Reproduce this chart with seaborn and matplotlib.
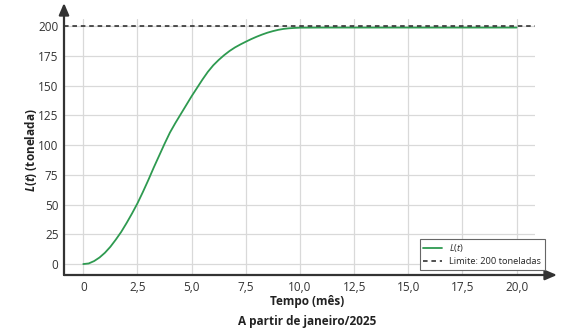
import matplotlib
matplotlib.use("Agg")
import matplotlib.pyplot as plt
import seaborn as sns
import pandas as pd

# Load curve L(t) in tonnes, months since January 2025
tempo = [0, 0.25, 0.5, 0.75, 1.0, 1.25, 1.5, 1.75, 2.0, 2.25, 2.5, 2.75, 3.0,
         3.25, 3.5, 3.75, 4.0, 4.25, 4.5, 4.75, 5.0, 5.25, 5.5, 5.75, 6.0, 6.25,
         6.5, 6.75, 7.0, 7.25, 7.5, 7.75, 8.0, 8.25, 8.5, 8.75, 9.0, 9.25, 9.5,
         9.75, 10.0, 11.0, 12.0, 13.0, 14.0, 15.0, 16.0, 17.0, 18.0, 19.0, 20.0]
carga = [0, 0.5, 2.5, 5.5, 9.5, 14.5, 20.5, 27, 34.5, 42.5, 51, 60.5, 70.5,
         81, 91, 101, 110.5, 118.5, 126, 133.5, 141, 148, 155, 161.5, 167, 171.5,
         175.5, 179, 182, 184.5, 186.8, 189, 191, 192.8, 194.4, 195.7, 196.8,
         197.6, 198.1, 198.4, 198.6, 198.7, 198.7, 198.7, 198.7, 198.7, 198.7,
         198.7, 198.7, 198.7, 198.7]
limite = 200

x_ticks = [0, 2.5, 5.0, 7.5, 10.0, 12.5, 15.0, 17.5, 20.0]
x_tick_labels = ["0", "2,5", "5,0", "7,5", "10,0", "12,5", "15,0", "17,5", "20,0"]
y_ticks = [0, 25, 50, 75, 100, 125, 150, 175, 200]

sns.set_style("whitegrid")
plt.rcParams["font.family"] = ["Open Sans", "DejaVu Sans"]
plt.rcParams["mathtext.fontset"] = "custom"
plt.rcParams["mathtext.rm"] = "Open Sans"
plt.rcParams["mathtext.it"] = "Open Sans:italic"
plt.rcParams["mathtext.bf"] = "Open Sans:bold"
plt.rcParams["mathtext.bfit"] = "Open Sans:italic:bold"

W, H = 583, 336
fig = plt.figure(figsize=(W / 100, H / 100), dpi=100)
left, right, top, bottom = 64, 535, 19, 275
ax = fig.add_axes([left / W, 1 - bottom / H, (right - left) / W, (bottom - top) / H])

df = pd.DataFrame({"t": tempo, "L": carga})
sns.lineplot(data=df, x="t", y="L", ax=ax, color="#2e9a50", linewidth=1.3,
             label=r"$\mathit{L}(\mathit{t})$")
ax.axhline(limite, color="#222222", linestyle=(0, (3, 2.5)), linewidth=1.1,
           label="Limite: 200 toneladas")

ax.set_xlim(-0.89, 20.85)
ax.set_ylim(-9.2, 205.9)
ax.set_xticks(x_ticks)
ax.set_xticklabels(x_tick_labels)
ax.set_yticks(y_ticks)
ax.tick_params(axis="both", length=0, labelsize=8.5, colors="#333333", pad=4)
ax.grid(True, color="#d9d9d9", linewidth=0.9)
for s in ax.spines.values():
    s.set_visible(False)
ax.set_xlabel("")

# axis arrows
arrow = dict(arrowstyle="-|>,head_length=0.7,head_width=0.3", color="#333333",
             lw=1.6, shrinkA=0, shrinkB=0)
ax.annotate("", xy=(0, 1.0625), xytext=(0, 0), xycoords="axes fraction",
            textcoords="axes fraction", arrowprops=arrow, annotation_clip=False)
ax.annotate("", xy=((557 - left) / (right - left), 0), xytext=(0, 0),
            xycoords="axes fraction", textcoords="axes fraction",
            arrowprops=arrow, annotation_clip=False)

# axis titles
ax.set_ylabel(r"$\mathbfit{L}\mathbf{(}\mathbfit{t}\mathbf{)}$ (tonelada)",
              fontsize=8.5, fontweight="bold", color="#222222", labelpad=10)
ax.yaxis.set_label_coords((39 - left) / (right - left), (bottom - 150) / (bottom - top))
fig.text(307 / W, 1 - 302 / H, "Tempo (mês)", ha="center", va="center",
         fontsize=8.5, fontweight="bold", color="#222222")
fig.text(307 / W, 1 - 321 / H, "A partir de janeiro/2025", ha="center",
         va="center", fontsize=8.5, fontweight="bold", color="#222222")

leg = ax.legend(loc="lower right", bbox_to_anchor=(545 / W, 1 - 270 / H),
                bbox_transform=fig.transFigure, borderaxespad=0, fontsize=6.7,
                frameon=True, fancybox=False, handlelength=2.0,
                borderpad=0.4, labelspacing=0.3)
leg.get_frame().set_edgecolor("#666666")
leg.get_frame().set_linewidth(0.8)
leg.get_frame().set_alpha(1)

fig.savefig("out.png", dpi=100)
